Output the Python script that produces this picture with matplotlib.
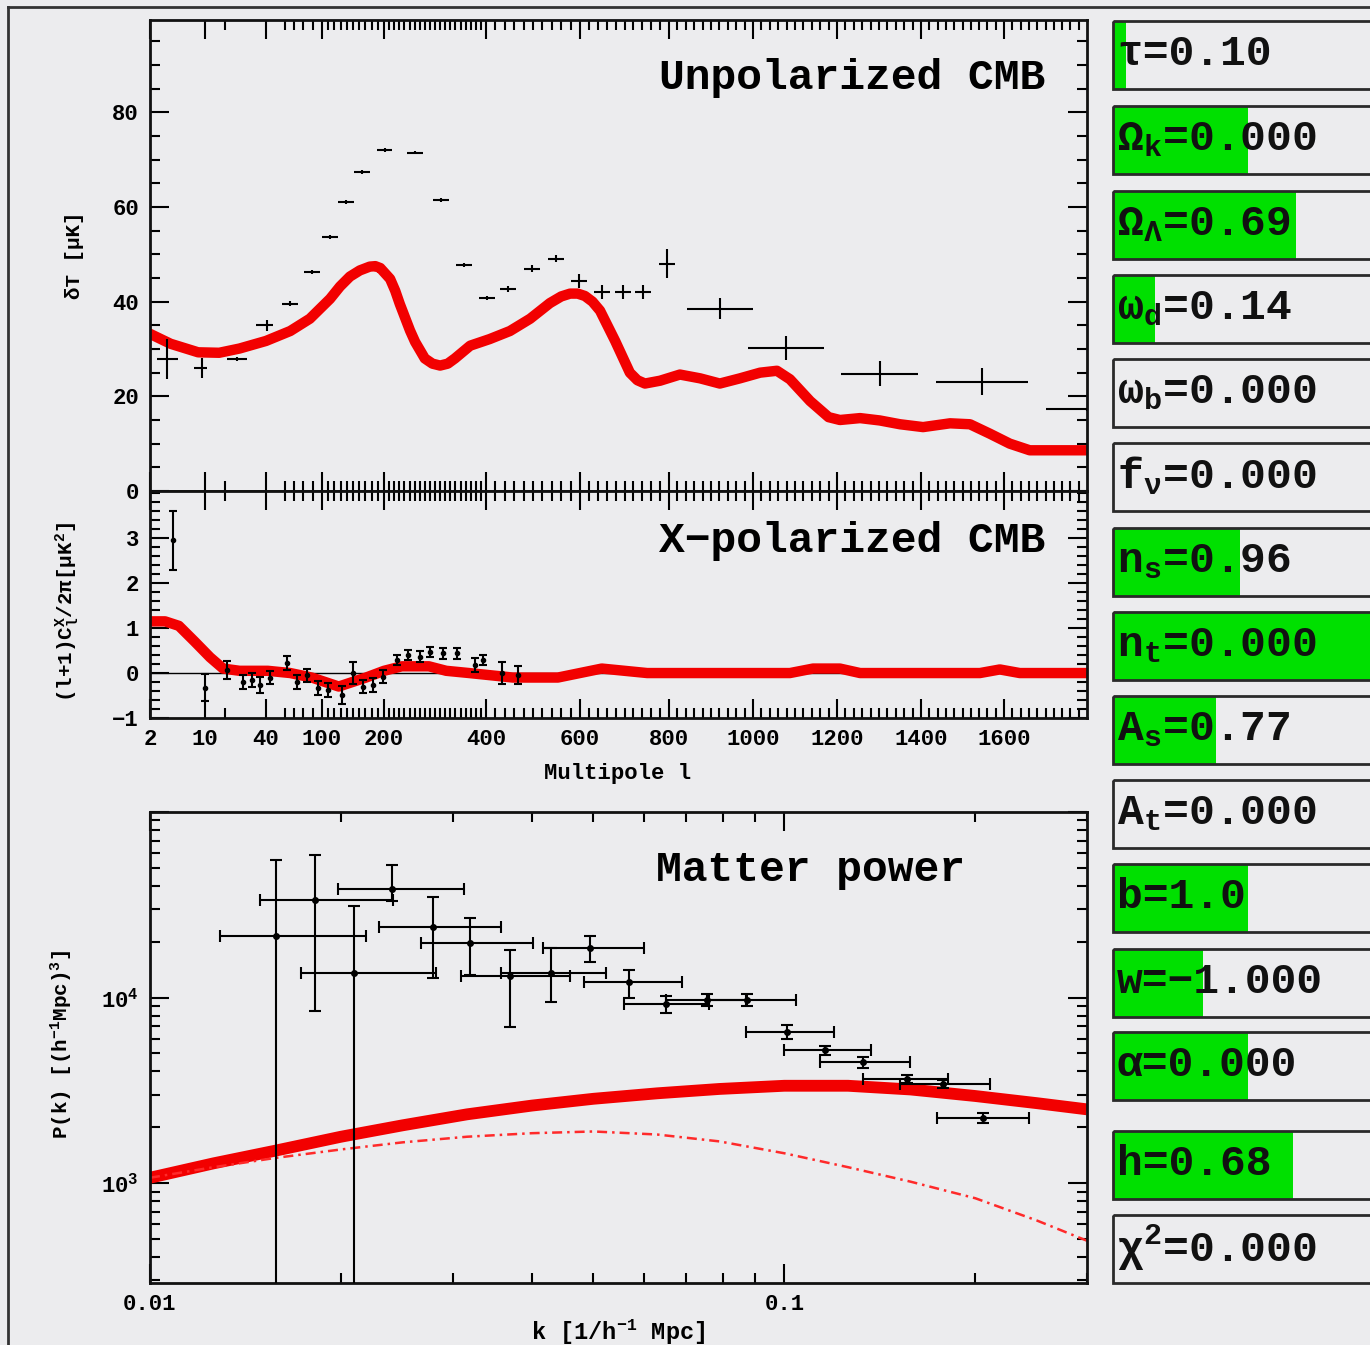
import numpy as np
import matplotlib
matplotlib.use("Agg")
import matplotlib.pyplot as plt
from matplotlib.patches import Rectangle
from matplotlib.ticker import FixedLocator, FixedFormatter, LogLocator, NullFormatter, MultipleLocator

BG = "#ECECEE"
RED = "#F20000"
GREEN = "#00E000"
MONO = "Liberation Mono"

plt.rcParams["font.family"] = [MONO, "DejaVu Sans"]
plt.rcParams["font.weight"] = "bold"
plt.rcParams["mathtext.default"] = "regular"

# ── data: unpolarized CMB ─────────────────────────────────────
L_TT = [4.5, 9.6, 25.7, 41, 65.7, 89, 113, 139, 165, 202, 261, 312, 357, 403,
        447, 498, 549, 598, 649, 697, 742, 796, 921, 1079, 1302, 1547, 1800]
L_TT_ERR = [1.5, 1.2, 5, 6, 8.5, 8.5, 13, 13, 13, 14, 16, 16, 16, 17,
            17, 17, 17, 17, 18, 18, 18, 18, 78, 90, 92, 110, 100]
DT = [27.9, 26.0, 27.9, 35.0, 39.6, 46.2, 53.7, 61.1, 67.4, 72.0, 71.5, 61.5, 47.8, 40.7,
      42.7, 47.0, 49.1, 44.4, 42.1, 42.1, 42.1, 48.0, 38.5, 30.2, 24.8, 23.1, 17.3]
DT_ERR = [4.2, 2.1, 0.4, 1.2, 0.5, 0.4, 0.4, 0.4, 0.4, 0.4, 0.4, 0.4, 0.4, 0.4,
          0.6, 0.8, 0.8, 1.5, 1.5, 1.5, 1.5, 3.1, 2.2, 2.6, 2.6, 2.8, 0.3]

L_MODEL = [2, 5, 9, 17, 27, 40, 66, 87, 113, 129, 145, 161, 177, 186, 194, 212, 222,
           231, 251, 261, 280, 295, 310, 325, 339, 369, 408, 451, 494, 536, 560, 579,
           595, 611, 628, 645, 679, 712, 729, 746, 780, 826, 874, 921, 969, 1017, 1057,
           1088, 1136, 1180, 1207, 1255, 1302, 1350, 1405, 1470, 1518, 1566, 1614, 1662,
           1710, 1800]
DT_MODEL = [33.2, 31.1, 29.3, 29.2, 30.1, 31.7, 33.8, 36.4, 40.6, 43.2, 45.3, 46.6,
            47.4, 47.5, 47.1, 44.8, 42.3, 39.5, 33.9, 31.5, 28.0, 26.9, 26.5, 26.9,
            28.0, 30.7, 32.1, 33.8, 36.4, 39.7, 41.1, 41.7, 41.7, 41.2, 40.0, 38.1,
            31.7, 25.0, 23.4, 22.7, 23.3, 24.6, 23.8, 22.7, 23.8, 25.0, 25.4, 23.6,
            19.0, 15.6, 15.0, 15.4, 14.9, 14.1, 13.5, 14.3, 14.1, 12.1, 10.0, 8.6,
            8.6, 8.6]

# ── data: X-polarized CMB ─────────────────────────────────────
L_TE = [5.3, 10, 21, 28.7, 33.1, 37, 44.3, 62.5, 73, 84, 96, 109.7, 132, 150, 166,
        182, 198, 225, 247, 271, 290, 316, 343, 378, 394, 434, 468]
TE = [2.95, -0.33, 0.07, -0.2, -0.15, -0.27, -0.1, 0.22, -0.2, -0.05, -0.33, -0.38,
      -0.49, 0.0, -0.3, -0.27, -0.08, 0.29, 0.4, 0.36, 0.47, 0.44, 0.44, 0.18, 0.29,
      0.0, -0.05]
TE_ERR = [0.65, 0.3, 0.2, 0.15, 0.15, 0.18, 0.15, 0.15, 0.15, 0.15, 0.15, 0.15, 0.2,
          0.25, 0.15, 0.15, 0.15, 0.12, 0.12, 0.12, 0.12, 0.12, 0.12, 0.15, 0.12,
          0.25, 0.2]

L_TE_MODEL = [2, 4.2, 6.2, 8.5, 12.5, 18.9, 27, 42, 66, 89, 127, 171, 200, 235, 288,
              322, 367, 457, 553, 649, 751, 874, 1088, 1143, 1207, 1255, 1542, 1590,
              1638, 1800]
TE_MODEL = [1.15, 1.15, 1.05, 0.7, 0.35, 0.1, 0.05, 0.05, 0.0, -0.1, -0.3, -0.1,
            0.05, 0.15, 0.15, 0.05, 0.0, -0.1, -0.1, 0.1, 0.0, 0.0, 0.0, 0.1, 0.1,
            0.0, 0.0, 0.08, 0.0, 0.0]

# ── data: matter power ────────────────────────────────────────
K = [0.0158, 0.0182, 0.0210, 0.0241, 0.0279, 0.0319, 0.0369, 0.0429, 0.0494, 0.0569,
     0.0651, 0.0754, 0.0874, 0.101, 0.116, 0.133, 0.156, 0.178, 0.206]
K_LO = [0.0129, 0.0149, 0.0173, 0.0198, 0.0230, 0.0267, 0.0309, 0.0357, 0.0416, 0.0483,
        0.0558, 0.065, 0.076, 0.0871, 0.100, 0.114, 0.133, 0.152, 0.174]
K_HI = [0.0219, 0.0242, 0.0282, 0.0313, 0.0357, 0.0402, 0.0459, 0.0524, 0.0601, 0.0690,
        0.076, 0.087, 0.1045, 0.1197, 0.137, 0.158, 0.181, 0.211, 0.243]
PK = [2.14e4, 3.34e4, 1.36e4, 3.83e4, 2.39e4, 1.98e4, 1.30e4, 1.35e4, 1.84e4, 1.22e4,
      9.2e3, 9.75e3, 9.75e3, 6.55e3, 5.2e3, 4.5e3, 3.65e3, 3.43e3, 2.24e3]
PK_LO = [100, 8.5e3, 100, 3.3e4, 1.27e4, 1.33e4, 6.97e3, 9.5e3, 1.55e4, 1.0e4,
         8.3e3, 9.0e3, 9.0e3, 6.0e3, 4.9e3, 4.2e3, 3.45e3, 3.25e3, 2.1e3]
PK_HI = [5.5e4, 5.9e4, 3.1e4, 5.2e4, 3.47e4, 2.7e4, 1.8e4, 1.84e4, 2.14e4, 1.4e4,
         1.02e4, 1.05e4, 1.05e4, 7.1e3, 5.5e3, 4.8e3, 3.85e3, 3.6e3, 2.4e3]

K_MODEL = [0.01, 0.0126, 0.0158, 0.02, 0.025, 0.0316, 0.04, 0.05, 0.063, 0.079, 0.1,
           0.126, 0.158, 0.2, 0.25, 0.30]
P_MODEL = [1.07e3, 1.28e3, 1.5e3, 1.78e3, 2.05e3, 2.35e3, 2.62e3, 2.85e3, 3.05e3,
           3.22e3, 3.35e3, 3.35e3, 3.2e3, 2.95e3, 2.7e3, 2.5e3]
K_LIN = [0.01, 0.0126, 0.0158, 0.02, 0.025, 0.0316, 0.04, 0.05, 0.063, 0.079, 0.1,
         0.126, 0.158, 0.2, 0.25, 0.30]
P_LIN = [1.07e3, 1.22e3, 1.37e3, 1.52e3, 1.66e3, 1.78e3, 1.86e3, 1.9e3, 1.83e3,
         1.68e3, 1.45e3, 1.22e3, 1.02e3, 8.3e2, 6.3e2, 4.9e2]

# ── data: parameter sliders ───────────────────────────────────
PARAM_LABELS = ["τ=0.10", "Ω$_k$=0.000", "Ω$_Λ$=0.69", "ω$_d$=0.14", "ω$_b$=0.000",
                "f$_ν$=0.000", "n$_s$=0.96", "n$_t$=0.000", "A$_s$=0.77", "A$_t$=0.000",
                "b=1.0", "w=−1.000", "α=0.000", "h=0.68", "χ$^2$=0.000"]
PARAM_FILL = [0.05, 0.51, 0.69, 0.16, 0.0, 0.0, 0.48, 1.0, 0.39, 0.0,
              0.51, 0.34, 0.51, 0.68, 0.0]

# multipole axis: tick values and where they sit along the axis
L_TICKS = [2, 10, 40, 100, 200, 400, 600, 800, 1000, 1200, 1400, 1600, 1800]
L_AXIS = [0, 55, 116, 172, 234, 336, 430, 519, 603, 687, 771, 854, 937]
L_MINOR = [20, 60, 70, 80, 90] + list(range(110, 400, 10)) + list(range(420, 1800, 20))


def l_fwd(l):
    return np.interp(np.asarray(l, dtype=float), L_TICKS, L_AXIS)


def l_inv(u):
    return np.interp(np.asarray(u, dtype=float), L_AXIS, L_TICKS)


W, H = 1370, 1345
fig = plt.figure(figsize=(W / 100, H / 100), dpi=100, facecolor=BG)


def rect(l, t, r, b):
    return [l / W, 1 - b / H, (r - l) / W, (b - t) / H]


def style(ax):
    ax.set_facecolor(BG)
    ax.tick_params(which="both", direction="in", top=True, right=True,
                   width=1.5, color="black", labelsize=16)
    ax.tick_params(which="major", length=14, pad=8)
    ax.tick_params(which="minor", length=7)
    for s in ax.spines.values():
        s.set_linewidth(2)
        s.set_color("#111111")


# overlay for frame and slider boxes
ov = fig.add_axes([0, 0, 1, 1])
ov.set_xlim(0, W)
ov.set_ylim(H, 0)
ov.axis("off")
ov.plot([8, W], [7, 7], color="#333333", lw=2)
ov.plot([8, 8], [7, H], color="#333333", lw=2)

box_tops = [21, 106, 191, 275, 359, 443, 528, 612, 696, 780, 864, 949, 1032, 1131, 1215]
for top, lab, frac in zip(box_tops, PARAM_LABELS, PARAM_FILL):
    if frac > 0:
        ov.add_patch(Rectangle((1113, top), 265 * frac, 68, facecolor=GREEN,
                               edgecolor="none", zorder=1))
    ov.add_patch(Rectangle((1113, top), 300, 68, facecolor="none",
                           edgecolor="#2a2a2a", lw=2, zorder=2))
    ov.text(1117, top + 33, lab, fontsize=31, fontweight="bold", va="center",
            ha="left", color="#111111", zorder=3)

# ── panel 1: unpolarized CMB ──────────────────────────────────
ax1 = fig.add_axes(rect(150, 20, 1087, 491))
style(ax1)
ax1.set_xscale("function", functions=(l_fwd, l_inv))
ax1.set_xlim(2, 1800)
ax1.set_ylim(0, 99.5)
ax1.plot(L_MODEL, DT_MODEL, color=RED, lw=7.5, solid_capstyle="round",
         solid_joinstyle="round", zorder=2)
ax1.errorbar(L_TT, DT, xerr=L_TT_ERR, yerr=DT_ERR, fmt="none", ecolor="black",
             elinewidth=1.5, capsize=0, zorder=3)
ax1.xaxis.set_major_locator(FixedLocator(L_TICKS[:-1]))
ax1.xaxis.set_minor_locator(FixedLocator(L_MINOR))
ax1.xaxis.set_major_formatter(NullFormatter())
ax1.yaxis.set_major_locator(MultipleLocator(20))
ax1.yaxis.set_minor_locator(MultipleLocator(5))
ax1.text(0.955, 0.877, "Unpolarized CMB", transform=ax1.transAxes, ha="right",
         va="center", fontsize=31, fontweight="bold")

# ── panel 2: X-polarized CMB ──────────────────────────────────
ax2 = fig.add_axes(rect(150, 491, 1087, 718))
style(ax2)
ax2.set_xscale("function", functions=(l_fwd, l_inv))
ax2.set_xlim(2, 1800)
ax2.set_ylim(-1, 4.05)
ax2.axhline(0, color="black", lw=1, zorder=1)
ax2.plot(L_TE_MODEL, TE_MODEL, color=RED, lw=7.5, solid_capstyle="round",
         solid_joinstyle="round", zorder=2)
ax2.errorbar(L_TE, TE, yerr=TE_ERR, fmt="o", ms=3, color="black", ecolor="black",
             elinewidth=1.5, capsize=3, capthick=1.5, zorder=3)
ax2.xaxis.set_major_locator(FixedLocator(L_TICKS[:-1]))
ax2.xaxis.set_minor_locator(FixedLocator(L_MINOR))
ax2.xaxis.set_major_formatter(FixedFormatter([str(v) for v in L_TICKS[:-1]]))
ax2.yaxis.set_major_locator(FixedLocator([-1, 0, 1, 2, 3]))
ax2.yaxis.set_major_formatter(FixedFormatter(["−1", "0", "1", "2", "3"]))
ax2.yaxis.set_minor_locator(MultipleLocator(0.2))
ax2.text(0.955, 0.78, "X−polarized CMB", transform=ax2.transAxes, ha="right",
         va="center", fontsize=31, fontweight="bold")

# ── panel 3: matter power ─────────────────────────────────────
ax3 = fig.add_axes(rect(150, 812, 1087, 1283))
style(ax3)
ax3.set_xscale("log")
ax3.set_yscale("log")
ax3.set_xlim(0.01, 0.30)
ax3.set_ylim(290, 1e5)
ax3.plot(K_MODEL, P_MODEL, color=RED, lw=8.5, solid_capstyle="butt",
         solid_joinstyle="round", zorder=2)
ax3.plot(K_LIN, P_LIN, color="#FF2A2A", lw=1.8, ls=(0, (4, 2, 1, 2)), zorder=2)
k = np.array(K)
pk = np.array(PK)
ax3.errorbar(k, pk, xerr=[k - np.array(K_LO), np.array(K_HI) - k],
             yerr=[pk - np.array(PK_LO), np.array(PK_HI) - pk], fmt="o", ms=4,
             color="black", ecolor="black", elinewidth=1.5, capsize=4,
             capthick=1.5, zorder=3)
ax3.xaxis.set_major_locator(FixedLocator([0.01, 0.1]))
ax3.xaxis.set_major_formatter(FixedFormatter(["0.01", "0.1"]))
ax3.xaxis.set_minor_locator(LogLocator(base=10, subs=np.arange(2, 10)))
ax3.xaxis.set_minor_formatter(NullFormatter())
ax3.yaxis.set_major_locator(FixedLocator([1e3, 1e4, 1e5]))
ax3.yaxis.set_major_formatter(FixedFormatter(["10$^3$", "10$^4$", ""]))
ax3.yaxis.set_minor_locator(LogLocator(base=10, subs=np.arange(2, 10)))
ax3.yaxis.set_minor_formatter(NullFormatter())
ax3.text(0.87, 0.877, "Matter power", transform=ax3.transAxes, ha="right",
         va="center", fontsize=31, fontweight="bold")

# axis titles
fig.text(75 / W, 1 - 255 / H, "δT [μK]", rotation=90, ha="center", va="center",
         fontsize=15)
fig.text(68 / W, 1 - 612 / H, "(l+1)C$_l^X$/2π[μK$^2$]", rotation=90, ha="center",
         va="center", fontsize=15)
fig.text(62 / W, 1 - 1045 / H, "P(k) [(h$^{-1}$Mpc)$^3$]", rotation=90, ha="center",
         va="center", fontsize=15)
fig.text(618 / W, 1 - 773 / H, "Multipole l", ha="center", va="center",
         fontsize=16)
fig.text(618 / W, 1 - 1332 / H, "k [1/h$^{-1}$ Mpc]", ha="center", va="center",
         fontsize=17)

fig.savefig("out.png", dpi=100, facecolor=BG)
